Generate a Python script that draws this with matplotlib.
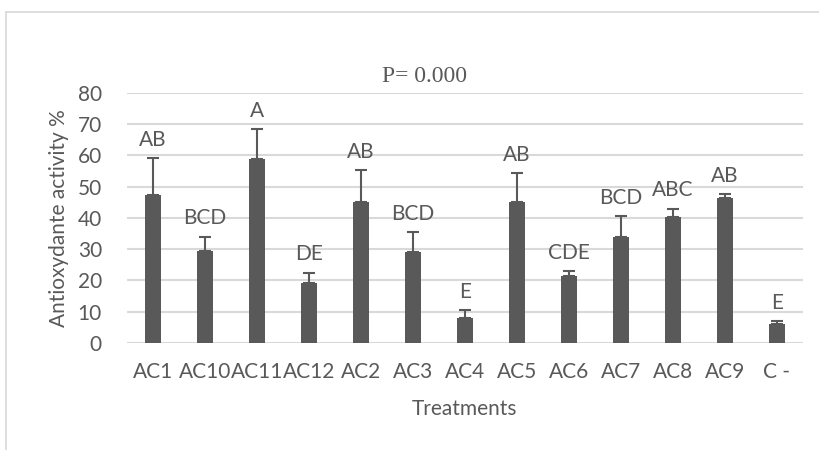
import matplotlib
matplotlib.use("Agg")
import matplotlib.pyplot as plt
from matplotlib.lines import Line2D
import numpy as np

# data
treatments = ["AC1", "AC10", "AC11", "AC12", "AC2", "AC3", "AC4", "AC5", "AC6", "AC7", "AC8", "AC9", "C -"]
activity = [47.3, 29.3, 58.8, 19.2, 45.2, 29.0, 8.1, 45.2, 21.3, 34.0, 40.3, 46.4, 5.9]
errors = [11.8, 4.7, 9.6, 3.3, 10.1, 6.5, 2.4, 9.0, 1.7, 6.5, 2.6, 1.1, 1.1]
groups = ["AB", "BCD", "A", "DE", "AB", "BCD", "E", "AB", "CDE", "BCD", "ABC", "AB", "E"]

txt = "#595959"
grid = "#d9d9d9"
fs = 15
plt.rcParams["font.family"] = ["Lato", "DejaVu Sans"]

fig = plt.figure(figsize=(8.19, 4.5), dpi=100)
ax = fig.add_axes([0.155, 0.238, 0.825, 0.556])

x = np.arange(len(treatments))
ax.bar(x, activity, width=0.31, color=txt, zorder=3)
ax.errorbar(x, activity, yerr=[np.zeros(len(errors)), errors], fmt="none",
            ecolor=txt, elinewidth=1.5, capsize=4.5, capthick=1.5, zorder=4)

for xi, v, e, g in zip(x, activity, errors, groups):
    ax.annotate(g, (xi, v + e), xytext=(0, 6), textcoords="offset points",
                ha="center", va="bottom", fontsize=fs, color=txt)

ax.set_ylim(0, 80)
ax.set_xlim(-0.5, len(treatments) - 0.5)
ax.set_yticks(range(0, 81, 10))
ax.set_xticks(x)
ax.set_xticklabels(treatments)
ax.tick_params(axis="both", length=0, labelsize=fs, labelcolor=txt)
ax.tick_params(axis="x", pad=14)
ax.tick_params(axis="y", pad=18)
ax.grid(axis="y", color=grid, linewidth=1.5, zorder=0)
for s in ax.spines.values():
    s.set_visible(False)

ax.set_xlabel("Treatments", fontsize=fs, color=txt, labelpad=12)
ax.set_ylabel("Antioxydante activity %", fontsize=fs, color=txt, labelpad=6)

fig.text(0.518, 0.83, "P= 0.000", ha="center", va="center", fontsize=17,
         color=txt, family="Liberation Serif")

# chart frame (top and left edges)
fig.add_artist(Line2D([6 / 819, 1], [1 - 12 / 450, 1 - 12 / 450], color=grid, linewidth=1.2))
fig.add_artist(Line2D([6 / 819, 6 / 819], [0, 1 - 12 / 450], color=grid, linewidth=1.2))

fig.savefig("out.png", dpi=100)
